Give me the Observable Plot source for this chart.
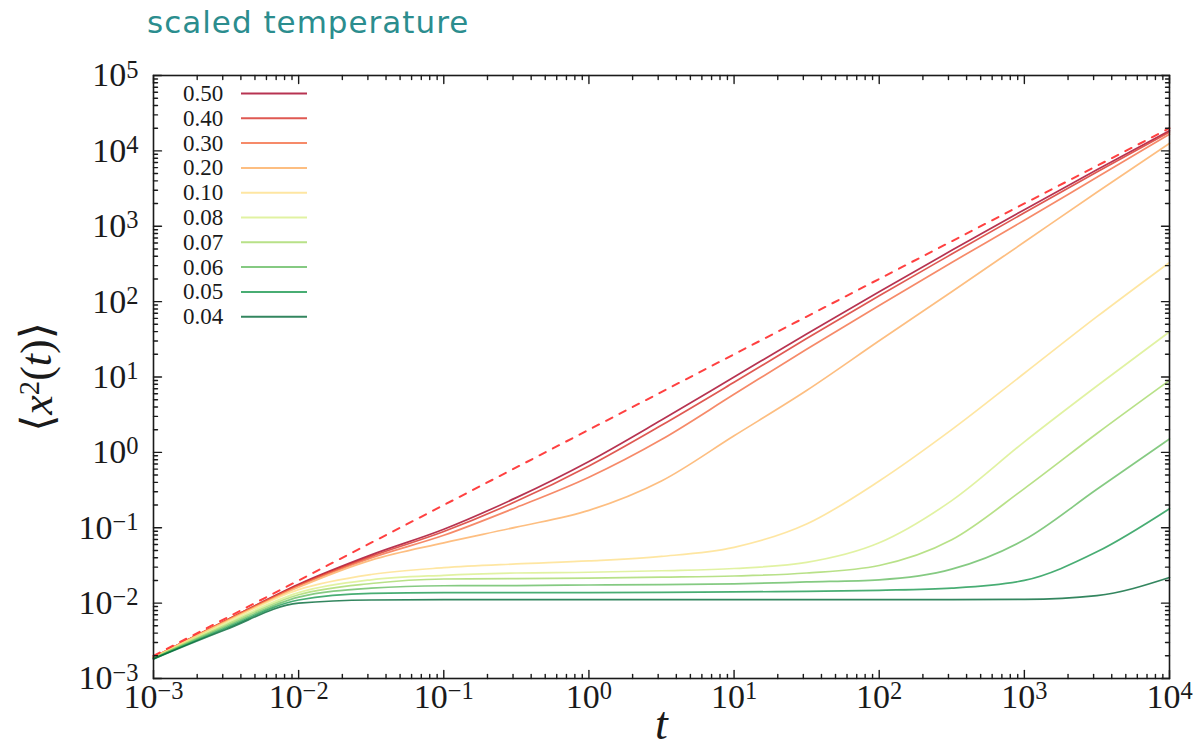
<!DOCTYPE html>
<html>
<head>
<meta charset="utf-8">
<script src="https://cdn.jsdelivr.net/npm/d3@7"></script>
<script src="https://cdn.jsdelivr.net/npm/@observablehq/plot@0.6"></script>
<style>
  html, body { margin: 0; padding: 0; background: #fff; }
  #wrap { position: relative; width: 1197px; height: 751px; overflow: hidden; }
  #title { position: absolute; left: 147px; top: 4px; font-family: "DejaVu Sans", sans-serif; font-size: 31px; letter-spacing: 1px; color: #2b8d8e; white-space: nowrap; }
  #chart { position: absolute; left: 0; top: 0; }
  #legend { position: absolute; left: 0; top: 0; }
</style>
</head>
<body>
<div id="wrap">
  <div id="chart"></div>
  <svg id="legend" width="400" height="340"></svg>
  <div id="title">scaled temperature</div>
</div>
<script>
// ---- data ----
const times = [0.001, 0.00316, 0.01, 0.0316, 0.1, 0.316, 1, 3.16, 10, 31.6, 100, 316, 1000, 3160, 10000];
const temperatures = ["0.50", "0.40", "0.30", "0.20", "0.10", "0.08", "0.07", "0.06", "0.05", "0.04"];
const msd_050 = [0.00191, 0.00589, 0.0178, 0.0437, 0.0955, 0.251, 0.759, 2.69, 10.0, 37.2, 135, 479, 1660, 5620, 18600];
const msd_040 = [0.00191, 0.00589, 0.0174, 0.0417, 0.0891, 0.224, 0.661, 2.29, 8.51, 32.4, 120, 427, 1510, 5250, 17800];
const msd_030 = [0.00191, 0.00589, 0.0170, 0.0398, 0.0794, 0.186, 0.468, 1.48, 5.89, 23.4, 89.1, 331, 1200, 4470, 16600];
const msd_020 = [0.00191, 0.00575, 0.0162, 0.0372, 0.0631, 0.102, 0.170, 0.417, 1.66, 6.61, 30.2, 135, 617, 2820, 12600];
const msd_010 = [0.00191, 0.00562, 0.0151, 0.0240, 0.0295, 0.0331, 0.0363, 0.0417, 0.0550, 0.112, 0.417, 2.00, 11.2, 63.1, 331];
const msd_008 = [0.00186, 0.00537, 0.0138, 0.0204, 0.0234, 0.0251, 0.0257, 0.0269, 0.0288, 0.0347, 0.0631, 0.229, 1.38, 7.59, 39.8];
const msd_007 = [0.00186, 0.00513, 0.0129, 0.0182, 0.0209, 0.0211, 0.0215, 0.0221, 0.0229, 0.0251, 0.0316, 0.0692, 0.331, 1.78, 9.02];
const msd_006 = [0.00186, 0.00490, 0.0120, 0.0158, 0.0170, 0.0171, 0.0174, 0.0176, 0.0180, 0.0191, 0.0204, 0.0282, 0.0692, 0.324, 1.51];
const msd_005 = [0.00182, 0.00468, 0.0110, 0.0135, 0.0138, 0.0138, 0.0138, 0.0139, 0.0141, 0.0143, 0.0148, 0.0158, 0.0200, 0.0479, 0.179];
const msd_004 = [0.00182, 0.00447, 0.0100, 0.0110, 0.0111, 0.0111, 0.0111, 0.0111, 0.0111, 0.0111, 0.0111, 0.0111, 0.0112, 0.0126, 0.0219];
const seriesColors = ["#a50026", "#d73027", "#f46d43", "#fdae61", "#fee08b", "#d9ef8b", "#a6d96a", "#66bd63", "#1a9850", "#006837"];
const ballisticT = [0.001, 10000];
const ballisticY = [0.002, 20000];
const xExponents = [-3, -2, -1, 0, 1, 2, 3, 4];
const yExponents = [-3, -2, -1, 0, 1, 2, 3, 4, 5];

// ---- build table ----
const allSeries = [msd_050, msd_040, msd_030, msd_020, msd_010, msd_008, msd_007, msd_006, msd_005, msd_004];
const rows = [];
allSeries.forEach((vals, i) => vals.forEach((v, j) => rows.push({T: temperatures[i], t: times[j], msd: v})));
const ballistic = ballisticT.map((t, i) => ({t, msd: ballisticY[i]}));

const xMajor = xExponents.map(e => Math.pow(10, e));
const yMajor = yExponents.map(e => Math.pow(10, e));
const xMinor = [], yMinor = [];
for (let e = -3; e < 4; e++) for (let m = 2; m <= 9; m++) xMinor.push(m * Math.pow(10, e));
for (let e = -3; e < 5; e++) for (let m = 2; m <= 9; m++) yMinor.push(m * Math.pow(10, e));

const tickShape = {draw(context, l) { context.moveTo(0, 0); context.lineTo(0, -l); }};
const tk = (data, ch, anchor, rotate, len) => Plot.vector(data, {
  [ch]: d => d, frameAnchor: anchor, rotate, length: len, anchor: "start",
  shape: tickShape, stroke: "#1a1a1a", strokeWidth: 1.4
});
const mathFont = "'Liberation Serif', 'DejaVu Serif', serif";
const M = {top: 75, left: 153, right: 28, bottom: 73};

const chart = Plot.plot({
  width: 1197,
  height: 751,
  marginTop: M.top,
  marginLeft: M.left,
  marginRight: M.right,
  marginBottom: M.bottom,
  style: {background: "transparent", overflow: "visible"},
  x: {type: "log", domain: [1e-3, 1e4], axis: null},
  y: {type: "log", domain: [1e-3, 1e5], axis: null},
  color: {domain: temperatures, range: seriesColors},
  marks: [
    Plot.line(rows, {x: "t", y: "msd", z: "T", stroke: "T", strokeWidth: 1.7, strokeOpacity: 0.8, curve: "monotone-x"}),
    Plot.line(ballistic, {x: "t", y: "msd", stroke: "#ff2b2b", strokeWidth: 2, strokeDasharray: "7,8", strokeOpacity: 0.9}),
    Plot.frame({stroke: "#1a1a1a", strokeWidth: 1.6}),
    tk(xMajor, "x", "bottom", 0, 8),
    tk(xMinor, "x", "bottom", 0, 4),
    tk(xMajor, "x", "top", 180, 8),
    tk(xMinor, "x", "top", 180, 4),
    tk(yMajor, "y", "left", 90, 8),
    tk(yMinor, "y", "left", 90, 4),
    tk(yMajor, "y", "right", -90, 8),
    tk(yMinor, "y", "right", -90, 4),
    Plot.text(xMajor, {x: d => d, frameAnchor: "bottom", dy: 29, text: (d, i) => "10^" + xExponents[i],
      fontFamily: mathFont, fontSize: 34, fill: "#1a1a1a"}),
    Plot.text(yMajor, {y: d => d, frameAnchor: "left", dx: -15, textAnchor: "end", text: (d, i) => "10^" + yExponents[i],
      fontFamily: mathFont, fontSize: 34, fill: "#1a1a1a"}),
    Plot.text(["t"], {frameAnchor: "bottom", dy: 60, text: d => d, fontFamily: mathFont, fontStyle: "italic", fontSize: 46, fill: "#1a1a1a"}),
    Plot.text(["⟨x²(t)⟩"], {frameAnchor: "left", textAnchor: "middle", rotate: -90, text: d => d, fontFamily: mathFont, fontSize: 44, fill: "#1a1a1a"})
  ]
});
document.getElementById("chart").appendChild(chart);

// ---- superscripts as tspans ----
const NS = "http://www.w3.org/2000/svg";
chart.querySelectorAll("text").forEach(el => {
  const txt = el.textContent;
  const m = txt.match(/^10\^(-?\d+)$/);
  if (m) {
    el.textContent = "";
    const a = document.createElementNS(NS, "tspan"); a.textContent = "10";
    const b = document.createElementNS(NS, "tspan");
    b.setAttribute("dy", "-0.36em"); b.setAttribute("font-size", "0.72em");
    b.textContent = m[1].replace("-", "\u2212");
    el.append(a, b);
  } else if (txt === "⟨x²(t)⟩") {
    el.textContent = "";
    const parts = [["⟨", null, null], ["x", "italic", null], ["2", null, "sup"], ["(", null, "base"], ["t", "italic", null], [")⟩", null, null]];
    parts.forEach(([s, style, pos]) => {
      const ts = document.createElementNS(NS, "tspan");
      ts.textContent = s;
      if (style) ts.setAttribute("font-style", style);
      if (pos === "sup") { ts.setAttribute("dy", "-0.45em"); ts.setAttribute("font-size", "0.65em"); }
      if (pos === "base") { ts.setAttribute("dy", "0.29em"); }
      el.append(ts);
    });
    // place the rotated axis title left of the frame, centred on the plot's height
    const cy = (M.top + 751 - M.bottom) / 2;
    el.setAttribute("text-anchor", "middle");
    el.setAttribute("transform", `translate(${M.left - 116},${cy}) rotate(-90)`);
  }
});

// ---- legend ----
const leg = d3.select("#legend");
temperatures.forEach((T, i) => {
  const y = 93.5 + i * 24.8;
  leg.append("text").attr("x", 183).attr("y", y + 7.5).attr("font-family", "Liberation Serif, serif")
    .attr("font-size", 23).attr("fill", "#1a1a1a").text(T);
  leg.append("line").attr("x1", 241).attr("x2", 307).attr("y1", y).attr("y2", y)
    .attr("stroke", seriesColors[i]).attr("stroke-width", 2).attr("stroke-opacity", 0.8);
});
</script>
</body>
</html>
